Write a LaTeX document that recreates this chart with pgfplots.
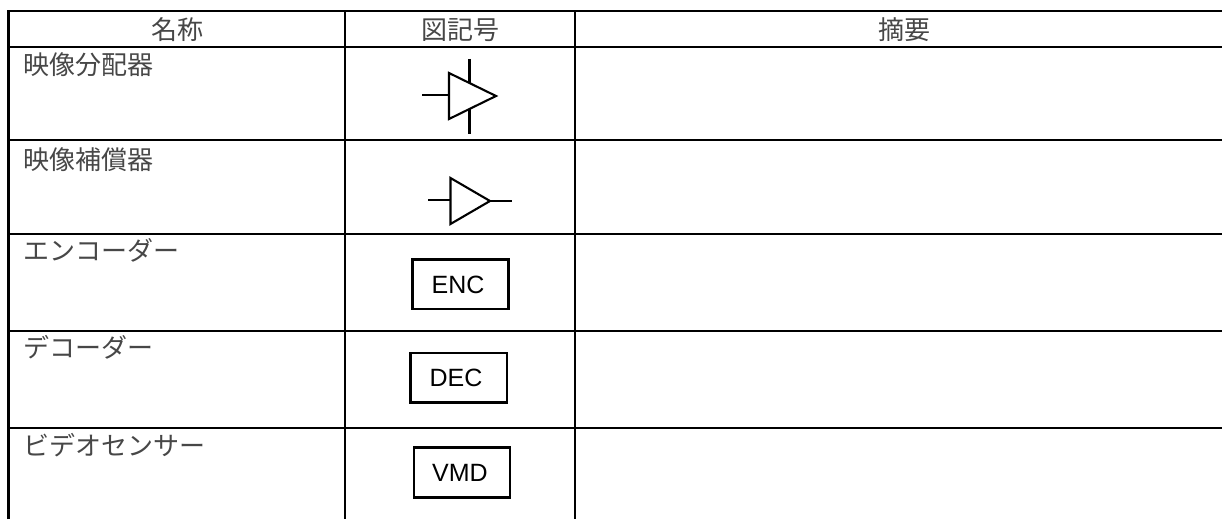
\documentclass[border=0pt]{standalone}
\usepackage{pgfplots}
\pgfplotsset{compat=1.18}
\usepackage{fontspec}
\setmainfont{Liberation Sans}
\newfontfamily\cjk{Noto Sans CJK JP}
\newcommand{\jp}{\cjk\color{black!72}\fontsize{26}{26}\selectfont}
\newcommand{\lat}{\fontsize{25}{25}\selectfont}
\tikzset{rl/.style={draw=black, fill=none, solid, line width=2.1pt, mark=none, line cap=butt, line join=miter, sharp plot}}
\begin{document}
\begin{tikzpicture}[inner sep=0pt,outer sep=0pt]
\path[use as bounding box] (0,0) rectangle (1222pt,519pt);
\begin{axis}[
  at={(0,0)}, anchor=south west,
  scale only axis, width=1222pt, height=519pt,
  xmin=0, xmax=1222, ymin=0, ymax=519, y dir=reverse,
  hide axis, clip=true,
]
% table rules
\addplot[rl] coordinates {(8.5,519) (8.5,11) (1222,11)};
\addplot[rl] coordinates {(8.5,47) (1222,47)};
\addplot[rl] coordinates {(8.5,140) (1222,140)};
\addplot[rl] coordinates {(8.5,234) (1222,234)};
\addplot[rl] coordinates {(8.5,331) (1222,331)};
\addplot[rl] coordinates {(8.5,428) (1222,428)};
\addplot[rl] coordinates {(345,11) (345,519)};
\addplot[rl] coordinates {(575,11) (575,519)};
% distributor symbol
\addplot[rl] coordinates {(449,73) (496,96) (449,119) (449,73) (496,96)};
\addplot[rl] coordinates {(422,95) (449,95)};
\addplot[rl] coordinates {(469.5,59) (469.5,83)};
\addplot[rl] coordinates {(469.5,109) (469.5,134)};
% compensator symbol
\addplot[rl] coordinates {(450.5,178) (490,201) (450.5,224) (450.5,178) (490,201)};
\addplot[rl] coordinates {(428,200) (450.5,200)};
\addplot[rl] coordinates {(490,201) (512,201)};
% boxes
\addplot[rl] coordinates {(412.5,259.5) (508.5,259.5) (508.5,309) (412.5,309) (412.5,259.5) (508.5,259.5)};
\addplot[rl] coordinates {(410.5,353) (507,353) (507,402.5) (410.5,402.5) (410.5,353) (507,353)};
\addplot[rl] coordinates {(414,447.5) (510,447.5) (510,497.5) (414,497.5) (414,447.5) (510,447.5)};
% text
\node[anchor=center] at (axis cs:177,30) {\jp 名称};
\node[anchor=center] at (axis cs:460,30) {\jp 図記号};
\node[anchor=center] at (axis cs:904,30) {\jp 摘要};
\node[anchor=west] at (axis cs:23,65) {\jp 映像分配器};
\node[anchor=west] at (axis cs:23,160) {\jp 映像補償器};
\node[anchor=west] at (axis cs:23,250) {\jp エンコーダー};
\node[anchor=west] at (axis cs:23,347) {\jp デコーダー};
\node[anchor=west] at (axis cs:23,445) {\jp ビデオセンサー};
\node[anchor=center] at (axis cs:458,285) {\lat ENC};
\node[anchor=center] at (axis cs:456,378) {\lat DEC};
\node[anchor=center] at (axis cs:460,473) {\lat VMD};
\end{axis}
\end{tikzpicture}
\end{document}
